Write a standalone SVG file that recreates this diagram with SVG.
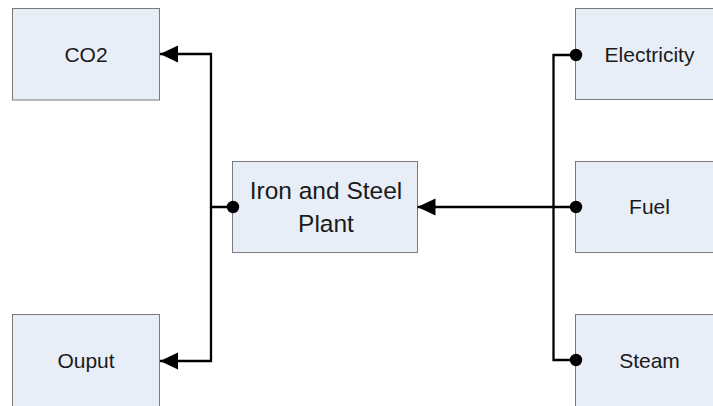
<svg xmlns="http://www.w3.org/2000/svg" width="713" height="406" viewBox="0 0 713 406">
<defs>
<style>
.box{fill:#E8EEF8;stroke:#7A7A7A;stroke-width:1}
.lbl{font-family:"Liberation Sans",Arial,sans-serif;font-size:21px;fill:#1a1a1a;text-anchor:middle}
.big{font-size:24.5px}
.conn{fill:none;stroke:#000;stroke-width:2.3;stroke-linejoin:miter}
</style>
<marker id="arr" markerUnits="userSpaceOnUse" markerWidth="18" markerHeight="18" viewBox="0 0 16 16" refX="16" refY="8" orient="auto">
<path d="M0,0.5 L16,8 L0,15.5 Z" fill="#000"/>
</marker>
<marker id="dot" markerUnits="userSpaceOnUse" markerWidth="14" markerHeight="14" viewBox="0 0 14 14" refX="7" refY="7" orient="auto">
<circle cx="7" cy="7" r="6.2" fill="#000"/>
</marker>
</defs>
<rect width="713" height="406" fill="#fff"/>
<g id="co2">
<rect class="box" x="12.5" y="8.5" width="147" height="91.5"/>
<text class="lbl" x="86" y="61.5">CO2</text>
</g>
<g id="output">
<rect class="box" x="12.5" y="314.5" width="147" height="92"/>
<text class="lbl" x="86" y="367.5">Ouput</text>
</g>
<g id="plant">
<rect class="box" x="232.5" y="161.5" width="185" height="91"/>
<text class="lbl big" x="326" y="199.3">Iron and Steel</text>
<text class="lbl big" x="326" y="231.7">Plant</text>
</g>
<g id="electricity">
<rect class="box" x="575.5" y="8.5" width="147" height="91"/>
<text class="lbl" x="649.5" y="61.5">Electricity</text>
</g>
<g id="fuel">
<rect class="box" x="575.5" y="161.5" width="147" height="91"/>
<text class="lbl" x="649.5" y="214">Fuel</text>
</g>
<g id="steam">
<rect class="box" x="575.5" y="314.5" width="147" height="92"/>
<text class="lbl" x="649.5" y="367.5">Steam</text>
</g>
<g id="connectors">
<path class="conn" d="M233,207 H211 V54 H160" marker-start="url(#dot)" marker-end="url(#arr)"/>
<path class="conn" d="M211,207 V361 H160" marker-end="url(#arr)"/>
<path class="conn" d="M576,55 H553.5 V207" marker-start="url(#dot)"/>
<path class="conn" d="M576,360 H553.5 V207" marker-start="url(#dot)"/>
<path class="conn" d="M576,207 H417.5" marker-start="url(#dot)" marker-end="url(#arr)"/>
</g>
</svg>
